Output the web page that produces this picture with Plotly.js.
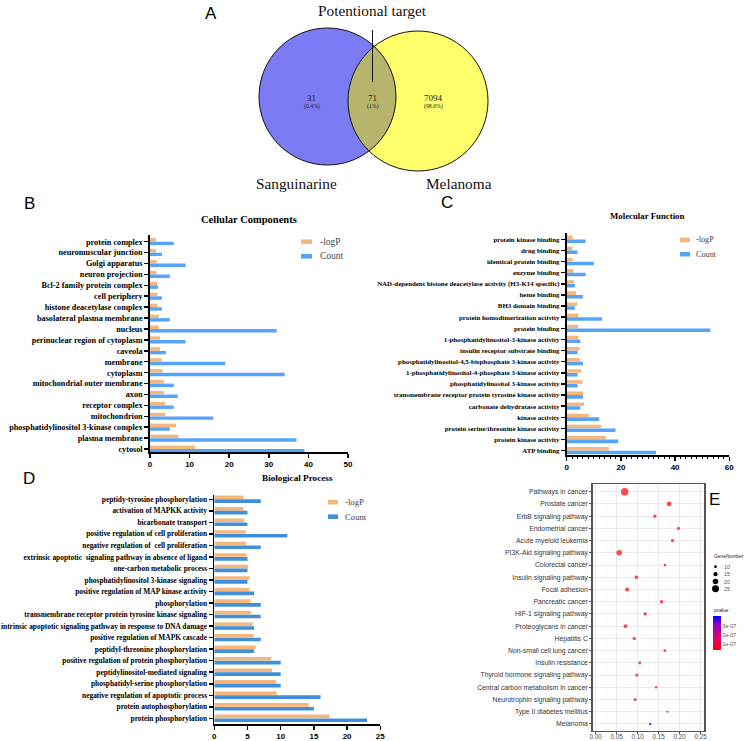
<!DOCTYPE html>
<html><head><meta charset="utf-8">
<script src="https://cdn.plot.ly/plotly-3.0.1.min.js"></script>
<style>html,body{margin:0;padding:0;background:#fff;}#chart{width:745px;height:741px;}</style>
</head><body><div id="chart"></div>
<script>
// ---------- DATA ----------
// A: Venn
const vennSets = ['Sanguinarine', 'Melanoma'];
const vennCounts = [31, 71, 7094];
const vennPercents = ['(0.4%)', '(1%)', '(98.6%)'];
const vennTitle = 'Potentional target';

// B: Cellular Components (top to bottom)
const ccTerms = ['protein complex','neuromuscular junction','Golgi apparatus','neuron projection','Bcl-2 family protein complex','cell periphery','histone deacetylase complex','basolateral plasma membrane','nucleus','perinuclear region of cytoplasm','caveola','membrane','cytoplasm','mitochondrial outer membrane','axon','receptor complex','mitochondrion','phosphatidylinositol 3-kinase complex','plasma membrane','cytosol'];
const ccLogP  = [1.5,1.5,1.7,1.7,1.8,1.9,1.9,2.2,2.2,2.5,2.5,2.9,3.2,3.5,3.5,3.8,3.9,6.6,7.2,11.4];
const ccCount = [6,3,9,5,2,3,3,5,32,9,4,19,34,6,7,6,16,5,37,39];

// C: Molecular Function
const mfTerms = ['protein kinase binding','drug binding','identical protein binding','enzyme binding','NAD-dependent histone deacetylase activity (H3-K14 specific)','heme binding','BH3 domain binding','protein homodimerization activity','protein binding','1-phosphatidylinositol-3-kinase activity','insulin receptor substrate binding','phosphatidylinositol-4,5-bisphosphate 3-kinase activity','1-phosphatidylinositol-4-phosphate 3-kinase activity','phosphatidylinositol 3-kinase activity','transmembrane receptor protein tyrosine kinase activity','carbonate dehydratase activity','kinase activity','protein serine/threonine kinase activity','protein kinase activity','ATP binding'];
const mfLogP  = [2.2,2.1,2.2,2.5,2.7,3.4,3.8,4.3,4.3,4.3,4.8,5.0,5.4,5.9,6.1,6.4,8.2,12.8,14.4,15.6];
const mfCount = [7,4,10,7,3,6,3,13,53,5,4,6,4,4,6,5,12,18,19,33];

// D: Biological Process
const bpTerms = ['peptidy-tyrosine phosphorylation','activation of MAPKK activity','bicarbonate transport','positive regulation of cell proliferation','negative regulation of  cell proliferation','extrinsic apoptotic  signaling pathway in absence of ligand','one-carbon metabolic process','phosphatidylinositol 3-kinase signaling','positive regulation of MAP kinase activity','phosphorylation','transmembrane receptor protein tyrosine kinase signaling','intrinsic apoptotic signaling pathway in response to DNA damage','positive regulation of MAPK cascade','peptidyl-threonine phosphorylation','positive regulation of protein phosphorylation','peptidylinositol-mediated signaling','phosphatidyl-serine phosphorylation','negative regulation of apoptotic process','protein autophosphorylation','protein phosphorylation'];
const bpLogP  = [4.4,4.4,4.5,4.75,4.75,4.9,5.1,5.3,5.3,5.45,5.55,5.8,5.95,6.25,8.6,8.7,9.3,9.4,14.25,17.35];
const bpCount = [7,5,5,11,7,5,5,5,6,7,7,6,7,6,10,10,10,16,15,23];

// E: KEGG
const keggTerms = ['Pathways in cancer','Prostate cancer','ErbB signaling pathway','Endometrial cancer','Acute myeloid leukemia','PI3K-Akt signaling pathway','Colorectal cancer','Insulin signaling pathway','Focal adhesion','Pancreatic cancer','HIF-1 signaling pathway','Proteoglycans in cancer','Hepatitis C','Non-small cell lung cancer','Insulin resistance','Thyroid hormone signaling pathway','Central carbon metabolism in cancer','Neurotrophin signaling pathway','Type II diabetes mellitus','Melanoma'];
const keggRatio = [0.069,0.175,0.141,0.197,0.183,0.056,0.165,0.097,0.075,0.157,0.118,0.071,0.092,0.165,0.105,0.098,0.144,0.094,0.171,0.130];
const keggGenes = [27,17,12,11,12,20,10,13,15,12,12,14,12,10,11,12,9,11,8,9];
const keggP = [4.0e-8,4.3e-8,5.0e-8,4.6e-8,4.8e-8,4.1e-8,5.5e-8,5.8e-8,5.2e-8,6.5e-8,8.5e-8,8.0e-8,1.05e-7,1.1e-7,1.3e-7,1.7e-7,1.75e-7,2.05e-7,3.0e-7,4.1e-7];
const sizeLegendValues = [10, 15, 20, 25];
const pTickVals = [1e-7, 2e-7, 3e-7];
const pTickText = ['1e-07', '2e-07', '3e-07'];
const seriesNames = ['-logP', 'Count'];

// ---------- STYLE / LAYOUT HELPERS ----------
const W = 745, H = 741;
const fx = p => p / W;
const fy = p => 1 - p / H;
const ORANGE = '#F6B77C';
const BLUE = '#54A4F8';
const BLUE_D = '#3F8FDA';
const SERIF = 'Liberation Serif, Times New Roman, serif';
const SANS = 'Liberation Sans, Arial, sans-serif';
const SIZEREF = 3.6;

function barXAxis(x0, x1, range, dtick, anchor, minor) {
  const a = {domain:[fx(x0), fx(x1)], range: range, dtick: dtick, tick0: 0, showline: true, linecolor:'#000', linewidth: 1.8,
    ticks:'outside', ticklen: 4, tickwidth: 1.5, tickcolor:'#000', showgrid:false, zeroline:false, anchor: anchor, fixedrange:true,
    tickfont:{family: SANS, size: 8, weight: 'bold', color:'#000'}};
  if (minor) a.minor = {ticks:'outside', ticklen: 2, tickwidth: 1, tickcolor:'#000', dtick: minor, showgrid:false};
  return a;
}
function barYAxis(y0, y1, range, anchor, fsize, cats) {
  return {domain:[fy(y1), fy(y0)], range: range, type:'category', categoryorder:'array', categoryarray: cats,
    showline:true, linecolor:'#000', linewidth:1.8, ticks:'outside', ticklen:4, tickwidth:1.5, tickcolor:'#000',
    showgrid:false, zeroline:false, anchor: anchor, fixedrange:true,
    tickfont:{family: SERIF, size: fsize, weight:'bold', color:'#000'}};
}
function barTrace(y, x, name, color, xa, ya) {
  return {type:'bar', orientation:'h', y: y, x: x, name: name, marker:{color: color, line:{width:0}},
    xaxis: xa, yaxis: ya, showlegend:false, hoverinfo:'skip'};
}

const traces = [
  barTrace(ccTerms, ccLogP, seriesNames[0], ORANGE, 'x', 'y'),
  barTrace(ccTerms, ccCount, seriesNames[1], BLUE, 'x', 'y'),
  barTrace(mfTerms, mfLogP, seriesNames[0], ORANGE, 'x2', 'y2'),
  barTrace(mfTerms, mfCount, seriesNames[1], BLUE, 'x2', 'y2'),
  barTrace(bpTerms, bpLogP, seriesNames[0], ORANGE, 'x3', 'y3'),
  barTrace(bpTerms, bpCount, seriesNames[1], BLUE_D, 'x3', 'y3'),
  {type:'scatter', mode:'markers', x: keggRatio, y: keggTerms, xaxis:'x4', yaxis:'y4', showlegend:false, hoverinfo:'skip',
   marker:{size: keggGenes, sizemode:'diameter', sizeref: SIZEREF, color: keggP, line:{width:0},
     colorscale:[[0,'#FF0000'],[0.25,'#EA0052'],[0.5,'#C8008E'],[0.75,'#9300C8'],[1,'#0000FF']],
     showscale:true,
     colorbar:{x: fx(713), xanchor:'left', y: fy(616), yanchor:'top', len: 34, lenmode:'pixels', thickness: 8, thicknessmode:'pixels',
       outlinewidth:0, xpad:0, ypad:0, ticks:'', tickvals: pTickVals, ticktext: pTickText, ticklabelstandoff: 0,
       tickfont:{family: SANS, size: 5.3, color:'#4d4d4d'},
       title:{text:''}}}}
];

// ---------- Venn geometry ----------
const cBlue = {x:327.5, y:96.5, r:68.5};
const cYel = {x:418, y:101, r:70};
function circleShape(c, fill, line) {
  return {type:'circle', xref:'paper', yref:'paper', x0: fx(c.x - c.r), x1: fx(c.x + c.r), y0: fy(c.y + c.r), y1: fy(c.y - c.r),
    fillcolor: fill, line: line, layer:'above'};
}
function lensPath(c1, c2, n) {
  const pts = [];
  for (let i = 0; i <= n; i++) { const a = -Math.PI + 2*Math.PI*i/n; const x = c1.x + c1.r*Math.cos(a), y = c1.y + c1.r*Math.sin(a);
    if (Math.hypot(x - c2.x, y - c2.y) <= c2.r) pts.push([x, y]); }
  for (let i = 0; i <= n; i++) { const a = 2*Math.PI*i/n; const x = c2.x + c2.r*Math.cos(a), y = c2.y + c2.r*Math.sin(a);
    if (Math.hypot(x - c1.x, y - c1.y) <= c1.r) pts.push([x, y]); }
  return 'M' + pts.map(p => fx(p[0]).toFixed(5) + ',' + fy(p[1]).toFixed(5)).join('L') + 'Z';
}

const shapes = [
  circleShape(cBlue, '#7B7BF6', {width:0}),
  circleShape(cYel, '#FFFF6C', {width:0}),
  {type:'path', xref:'paper', yref:'paper', path: lensPath(cBlue, cYel, 720), fillcolor:'#B7B46D', line:{width:0}, layer:'above'},
  circleShape(cBlue, 'rgba(0,0,0,0)', {color:'#111', width:1}),
  circleShape(cYel, 'rgba(0,0,0,0)', {color:'#111', width:1}),
  {type:'line', xref:'paper', yref:'paper', x0: fx(372.5), x1: fx(372.5), y0: fy(30), y1: fy(82), line:{color:'#111', width:1}, layer:'above'}
];

const annotations = [];
function ann(text, x, y, font, xanchor) {
  annotations.push({text: text, x: fx(x), y: fy(y), xref:'paper', yref:'paper', showarrow:false,
    xanchor: xanchor || 'center', yanchor:'middle', font: font});
}
// legends for bar panels
function barLegend(sx0, sx1, ys, tx, fsize, colors) {
  for (let i = 0; i < 2; i++) {
    shapes.push({type:'rect', xref:'paper', yref:'paper', x0: fx(sx0), x1: fx(sx1), y0: fy(ys[i] + 2.3), y1: fy(ys[i] - 2.3),
      fillcolor: colors[i], line:{width:0}, layer:'above'});
    ann(seriesNames[i], tx, ys[i], {family: SERIF, size: fsize, color:'#444'}, 'left');
  }
}
barLegend(301, 312, [241.7, 256.3], 318, 9.5, [ORANGE, BLUE]);
barLegend(680, 690, [240, 254.2], 694, 8.2, [ORANGE, BLUE]);
barLegend(328, 338, [502.2, 516.7], 343, 8.7, [ORANGE, BLUE_D]);

// panel titles
ann('Cellular Components', 249, 219, {family: SERIF, size: 10.5, weight:'bold', color:'#000'});
ann('Molecular Function', 647, 216, {family: SERIF, size: 8.8, weight:'bold', color:'#000'});
ann('Biological Process', 297, 477.5, {family: SERIF, size: 9.2, weight:'bold', color:'#000'});

// panel letters
const LET = {family: SANS, size: 17, color:'#000'};
ann('A', 210.5, 14, LET); ann('B', 29, 203, LET); ann('C', 447, 202, LET); ann('D', 29, 478, LET); ann('E', 714, 499, LET);

// venn texts
ann(vennTitle, 372.5, 10, {family: SERIF, size: 15.3, color:'#111'});
ann(vennSets[0], 296, 183, {family: SERIF, size: 15.3, color:'#111'});
ann(vennSets[1], 459, 183, {family: SERIF, size: 15.3, color:'#111'});
const vennX = [311.7, 372.7, 433.3];
for (let i = 0; i < 3; i++) {
  ann(String(vennCounts[i]), vennX[i], 98.3, {family: SERIF, size: 9, color:'#222'});
  ann(vennPercents[i], vennX[i], 106, {family: SERIF, size: 5.8, color:'#222'});
}

// E legends
ann('GeneNumber', 712, 556.7, {family: SANS, size: 4.9, color:'#222'}, 'left');
ann('pvalue', 712, 610.7, {family: SANS, size: 4.9, color:'#222'}, 'left');
const sizeLegY = [566.7, 574.2, 581.5, 588.8];
sizeLegendValues.forEach((v, i) => {
  const d = v / SIZEREF;
  shapes.push({type:'circle', xref:'paper', yref:'paper', x0: fx(715.5 - d/2), x1: fx(715.5 + d/2), y0: fy(sizeLegY[i] + d/2), y1: fy(sizeLegY[i] - d/2),
    fillcolor:'#000', line:{width:0}, layer:'above'});
  ann(String(v), 721.5, sizeLegY[i], {family: SANS, size: 5.3, color:'#4d4d4d'}, 'left');
});

const layout = {
  width: W, height: H, autosize:false, margin:{l:0, r:0, t:0, b:0}, paper_bgcolor:'#fff', plot_bgcolor:'rgba(0,0,0,0)',
  barmode:'group', bargap: 0.34, bargroupgap: 0.04, showlegend:false,
  xaxis: barXAxis(150, 348, [0, 50], 10, 'y'),
  yaxis: barYAxis(235, 452, [19.27, -0.61], 'x', 8.2, ccTerms),
  xaxis2: barXAxis(566.7, 729.3, [0, 60], 20, 'y2', 2),
  yaxis2: barYAxis(233, 455, [19.39, -0.57], 'x2', 6.9, mfTerms),
  xaxis3: barXAxis(214.3, 380.3, [0, 25], 5, 'y3'),
  yaxis3: barYAxis(495, 724, [19.49, -0.37], 'x3', 7.4, bpTerms),
  xaxis4: {domain:[fx(592.7), fx(704)], range:[-0.007, 0.258], tick0:0, dtick:0.05, tickformat:'.2f', anchor:'y4',
    showline:true, mirror:true, linecolor:'#555', linewidth:1.5, ticks:'outside', ticklen:2, tickcolor:'#555', tickwidth:1,
    ticklabelstandoff: -3,
    showgrid:true, gridcolor:'#e6e6e6', gridwidth:0.8, zeroline:false, fixedrange:true,
    minor:{dtick:0.025, showgrid:true, gridcolor:'#f2f2f2', gridwidth:0.5},
    tickfont:{family: SANS, size: 6.3, color:'#4d4d4d'}},
  yaxis4: {domain:[fy(730.7), fy(484)], range:[19.55, -0.63], type:'category', categoryorder:'array', categoryarray: keggTerms, anchor:'x4',
    showline:true, mirror:true, linecolor:'#555', linewidth:1.5, ticks:'outside', ticklen:2, tickcolor:'#555', tickwidth:1,
    showgrid:true, gridcolor:'#e6e6e6', gridwidth:0.8, zeroline:false, fixedrange:true,
    tickfont:{family: SANS, size: 6.8, color:'#333'}},
  shapes: shapes,
  annotations: annotations
};

Plotly.newPlot('chart', traces, layout, {displayModeBar:false, staticPlot:true});
</script>
</body></html>
